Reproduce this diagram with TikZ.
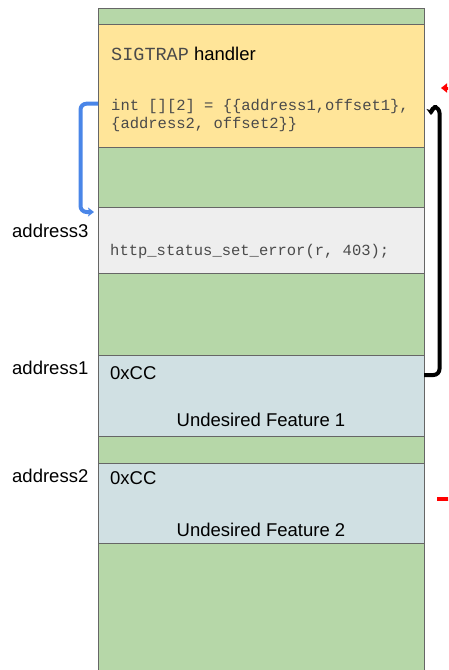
\documentclass[tikz,border=0pt]{standalone}
\usepackage{fontspec}
\setmainfont{Liberation Sans}
\setmonofont{Liberation Mono}
\usetikzlibrary{arrows.meta}

\definecolor{memgreen}{HTML}{B6D7A8}
\definecolor{memyellow}{HTML}{FFE599}
\definecolor{memgray}{HTML}{EEEEEE}
\definecolor{memblue}{HTML}{D0E0E3}
\definecolor{edgegray}{HTML}{666666}
\definecolor{codegray}{HTML}{4A4A4A}
\definecolor{jumpblue}{HTML}{4A86E8}
\definecolor{trapred}{HTML}{FF0000}

\tikzset{
  block/.style={draw=edgegray, line width=1pt, minimum width=326pt,
    inner sep=0pt, outer sep=0pt},
  sanslabel/.style={font=\fontsize{18.5}{22}\selectfont, text=black,
    inner sep=0pt, anchor=base west},
  codetext/.style={font=\ttfamily\fontsize{15.5}{18}\selectfont, text=codegray,
    inner sep=0pt, anchor=base west, align=left},
  jump/.style={line width=4pt, rounded corners=6pt,
    -{Stealth[length=6pt,width=9pt,inset=1.5pt]}},
}

\begin{document}
\begin{tikzpicture}[x=1pt, y=-1pt]
\useasboundingbox (0,0) rectangle (448,670);
\clip (0,0) rectangle (448,670);

% memory column background
\node[block, fill=memgreen, minimum height=700pt, anchor=north] (mem) at (261,8) {};

% regions inside the column
\node[block, fill=memyellow, minimum height=123pt] (handler) at (261,85.5) {};
\node[block, fill=memgray,   minimum height=66pt]  (errcall) at (261,240) {};
\node[block, fill=memblue,   minimum height=81pt]  (feat1)   at (261,395.5) {};
\node[block, fill=memblue,   minimum height=80pt]  (feat2)   at (261,503) {};

% handler contents
\node[sanslabel] (sigtrap) at (111,60)
  {{\ttfamily\color{codegray}SIGTRAP} handler};
\node[codetext] (table1) at (111,110) {int [][2] = \{\{address1,offset1\},};
\node[codetext] (table2) at (111,128) {\{address2, offset2\}\}};

% error path
\node[codetext] (errtext) at (110,255) {http\_status\_set\_error(r, 403);};

% undesired features
\node[sanslabel] (cc1) at (110,379) {0xCC};
\node[sanslabel, anchor=base] (uf1) at (261,426) {Undesired Feature 1};
\node[sanslabel] (cc2) at (110,484) {0xCC};
\node[sanslabel, anchor=base] (uf2) at (261,536) {Undesired Feature 2};

% addresses
\node[sanslabel] (addr3) at (12,237) {address3};
\node[sanslabel] (addr1) at (12,374) {address1};
\node[sanslabel] (addr2) at (12,482) {address2};

% connector end points (yshift is in page direction: positive is up)
\coordinate (bluestart) at ([yshift=-18.2pt]handler.west);
\coordinate (blueend)   at (94,212);
\coordinate (blackstart) at ([yshift=20.5pt]feat1.east);
\coordinate (blackend)   at (431,115);

% jump from the handler to the error call
\draw[jump, draw=jumpblue]
  (bluestart) -- (80.5,103.7) -- (80.5,212) -- (blueend);

% return from the trap in feature 1 to the handler
\draw[jump, draw=black]
  (blackstart) -- (439.5,375) -- (439.5,107) -- (431,107) -- (blackend);

% red markers reaching in from the right
\coordinate (redtip) at (441,88);
\draw[trapred, line width=3pt, -{Triangle[length=6pt,width=9pt]}]
  (470,88) -- (redtip);
\coordinate (redbar) at (437,498.5);
\draw[trapred, line width=4pt] (redbar) -- (460,498.5);
\end{tikzpicture}
\end{document}
